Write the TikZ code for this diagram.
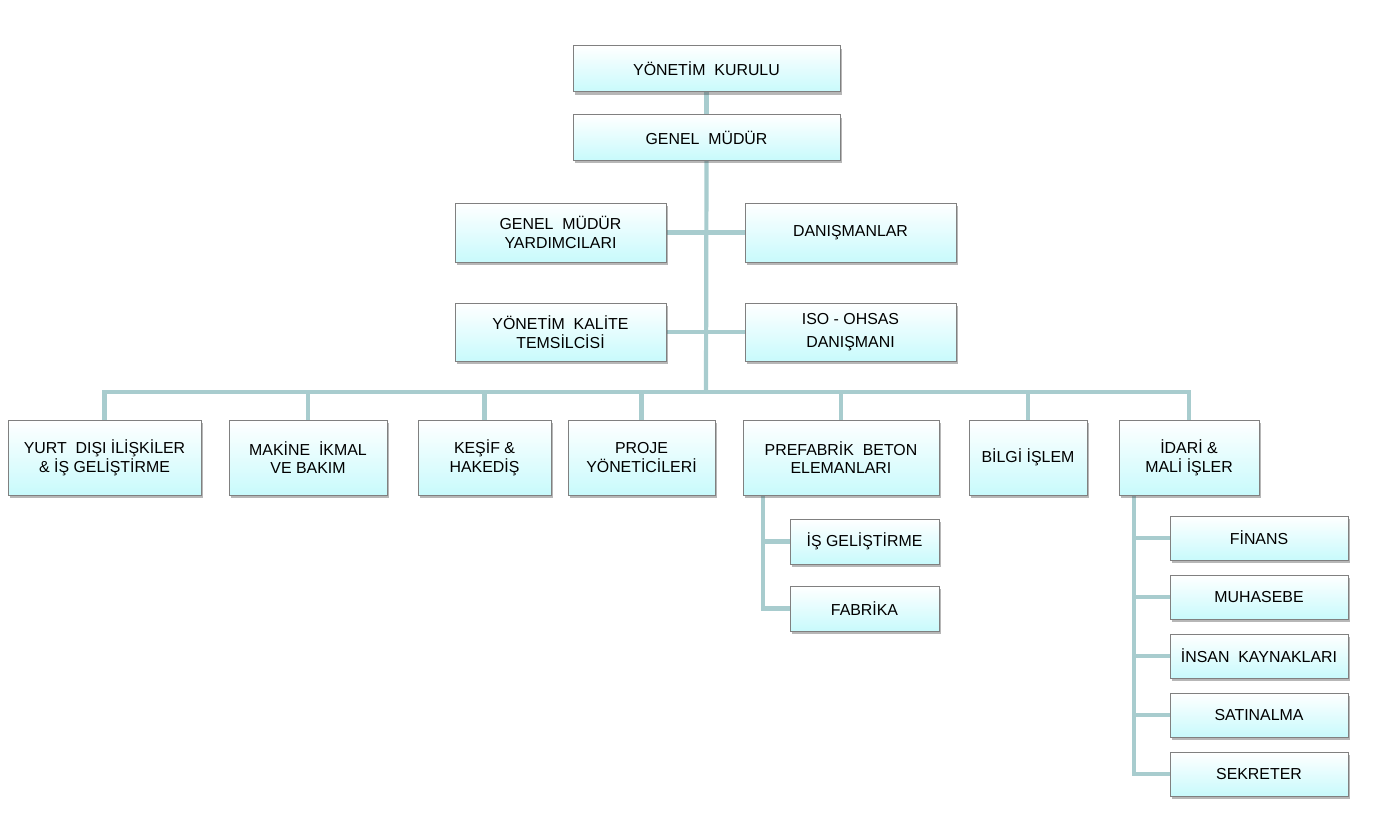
\documentclass[tikz,border=0pt]{standalone}
\usepackage{fontspec}
\setmainfont{Liberation Sans}
\usetikzlibrary{shadows}
\definecolor{conn}{RGB}{168,204,206}
\definecolor{boxline}{RGB}{128,128,128}
\definecolor{boxbot}{RGB}{200,250,252}
\pgfdeclarelayer{bg}
\pgfsetlayers{bg,main}
\tikzset{
  orgbox/.style={draw=boxline, line width=1pt, top color=white, bottom color=boxbot,
    shading angle=0, align=center, inner sep=0pt, text=black,
    font=\fontsize{15.9}{18.8}\selectfont,
    drop shadow={shadow xshift=2pt, shadow yshift=-3pt, opacity=0.4, fill=black!70}},
  link/.style={draw=conn, line width=4.2pt}
}
\begin{document}
\begin{tikzpicture}[x=1pt,y=-1pt]
\useasboundingbox (0,0) rectangle (1378,824);
% top
\node[orgbox, minimum width=267pt, minimum height=46pt] (yk) at (706.5,69) {YÖNETİM\ \ KURULU};
\node[orgbox, minimum width=267pt, minimum height=45pt] (gm) at (706.5,137.5) {GENEL\ \ MÜDÜR};
\node[orgbox, minimum width=211pt, minimum height=59pt] (gmy) at (560.5,232.5) {GENEL\ \ MÜDÜR\\YARDIMCILARI};
\node[orgbox, minimum width=211pt, minimum height=59pt] (dan) at (850.5,232.5) {DANIŞMANLAR};
\node[orgbox, minimum width=211pt, minimum height=58pt] (ykt) at (560.5,332) {YÖNETİM\ \ KALİTE\\TEMSİLCİSİ};
\node[orgbox, minimum width=211pt, minimum height=58pt] (iso) at (850.5,332) {ISO - OHSAS\\[3.5pt]DANIŞMANI};
% bottom row
\node[orgbox, minimum width=193pt, minimum height=75pt] (yurt) at (104.5,457.5) {YURT\ \ DIŞI İLİŞKİLER\\\& İŞ GELİŞTİRME};
\node[orgbox, minimum width=158pt, minimum height=75pt] (mak) at (308,457.5) {MAKİNE\ \ İKMAL\\VE BAKIM};
\node[orgbox, minimum width=133pt, minimum height=75pt] (kes) at (484.5,457.5) {KEŞİF \&\\HAKEDİŞ};
\node[orgbox, minimum width=147pt, minimum height=75pt] (pro) at (641.5,457.5) {PROJE\\YÖNETİCİLERİ};
\node[orgbox, minimum width=196pt, minimum height=75pt] (pre) at (841,457.5) {PREFABRİK\ \ BETON\\ELEMANLARI};
\node[orgbox, minimum width=118pt, minimum height=75pt] (bil) at (1028,457.5) {BİLGİ İŞLEM};
\node[orgbox, minimum width=140pt, minimum height=75pt] (ida) at (1189,457.5) {İDARİ \&\\MALİ İŞLER};
% prefabrik subs
\node[orgbox, minimum width=149pt, minimum height=45pt] (isg) at (864.5,541.5) {İŞ GELİŞTİRME};
\node[orgbox, minimum width=149pt, minimum height=45pt] (fab) at (864.5,608.5) {FABRİKA};
% idari subs
\node[orgbox, minimum width=178pt, minimum height=44pt] (fin) at (1259,538) {FİNANS};
\node[orgbox, minimum width=178pt, minimum height=44pt] (muh) at (1259,597) {MUHASEBE};
\node[orgbox, minimum width=178pt, minimum height=44pt] (ins) at (1259,656) {İNSAN\ \ KAYNAKLARI};
\node[orgbox, minimum width=178pt, minimum height=44pt] (sat) at (1259,715) {SATINALMA};
\node[orgbox, minimum width=178pt, minimum height=44pt] (sek) at (1259,774) {SEKRETER};
% coordinates
\coordinate (bus) at (706,392);
\coordinate (pv) at (763,0);
\coordinate (iv) at (1134,0);
\begin{pgfonlayer}{bg}
\draw[link] (yk.south) -- (gm.north);
\draw[link] (gm.south) -- (bus);
\draw[link] (gmy.east) -- (dan.west);
\draw[link] (ykt.east) -- (iso.west);
\draw[link, line cap=rect] (yurt.north |- bus) -- (ida.north |- bus);
\foreach \n in {yurt,mak,kes,pro,pre,bil,ida}{
  \draw[link] (\n.north |- bus) -- (\n.north);
}
\draw[link] (pv |- pre.south) -- (pv |- fab.west) -- (fab.west);
\draw[link] (pv |- isg.west) -- (isg.west);
\draw[link] (iv |- ida.south) -- (iv |- sek.west) -- (sek.west);
\foreach \n in {fin,muh,ins,sat}{
  \draw[link] (iv |- \n.west) -- (\n.west);
}
\end{pgfonlayer}
\end{tikzpicture}
\end{document}
